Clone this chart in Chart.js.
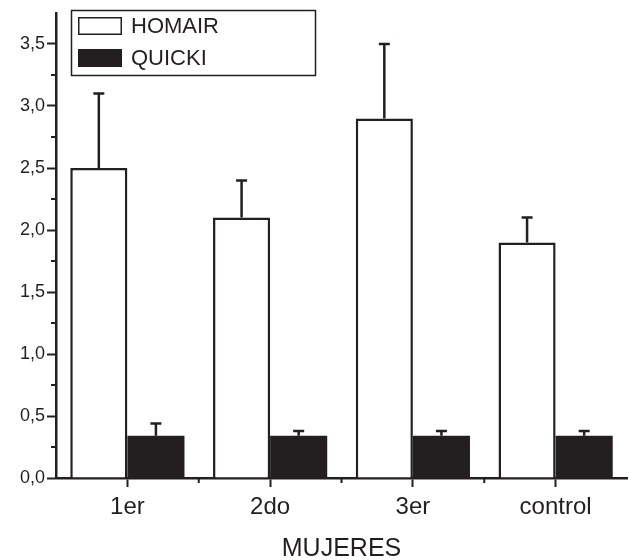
<!DOCTYPE html>
<html>
<head>
<meta charset="utf-8">
<title>HOMAIR / QUICKI</title>
<script src="https://cdn.jsdelivr.net/npm/chart.js@4.4.0/dist/chart.umd.min.js"></script>
<style>
    html, body { margin: 0; padding: 0; background: #fff; }
    canvas { display: block; }
</style>
</head>
<body>
<canvas id="chart" width="629" height="560"></canvas>
<script>
// values
const categories = ['1er', '2do', '3er', 'control'];
const homair = [2.5, 2.1, 2.9, 1.9];
const homairErr = [0.6, 0.3, 0.6, 0.2];
const quicki = [0.34, 0.34, 0.34, 0.34];
const quickiErr = [0.1, 0.04, 0.04, 0.04];
const yTicks = [0, 0.5, 1, 1.5, 2, 2.5, 3, 3.5];
const yMax = 3.75;

const ink = '#231f20';
const font = '"Liberation Sans", Arial, sans-serif';

// error bars (upper half only) drawn from the bar elements and y scale
const errorBars = {
    id: 'errorBars',
    afterDatasetsDraw: function (chart) {
        const ctx = chart.ctx;
        const y = chart.scales.y;
        ctx.save();
        ctx.strokeStyle = ink;
        ctx.lineWidth = 2.5;
        chart.data.datasets.forEach(function (ds, i) {
            chart.getDatasetMeta(i).data.forEach(function (bar, j) {
                const top = y.getPixelForValue(ds.data[j] + ds.errors[j]);
                ctx.beginPath();
                ctx.moveTo(bar.x, bar.y);
                ctx.lineTo(bar.x, top);
                ctx.moveTo(bar.x - 5.5, top);
                ctx.lineTo(bar.x + 5.5, top);
                ctx.stroke();
            });
        });
        ctx.restore();
    }
};

// minor ticks on both axes
const minorTicks = {
    id: 'minorTicks',
    afterDraw: function (chart) {
        const ctx = chart.ctx;
        const x = chart.scales.x;
        const y = chart.scales.y;
        const area = chart.chartArea;
        ctx.save();
        ctx.strokeStyle = ink;
        ctx.lineWidth = 2;
        ctx.beginPath();
        for (let k = 0; k < yTicks.length - 1; k++) {
            const py = y.getPixelForValue((yTicks[k] + yTicks[k + 1]) / 2);
            ctx.moveTo(area.left - 5, py);
            ctx.lineTo(area.left, py);
        }
        for (let k = 0; k < categories.length - 1; k++) {
            const px = (x.getPixelForValue(k) + x.getPixelForValue(k + 1)) / 2;
            ctx.moveTo(px, area.bottom);
            ctx.lineTo(px, area.bottom + 5);
        }
        ctx.stroke();
        ctx.restore();
    }
};

// boxed legend sitting inside the plot, top left
const boxLegend = {
    id: 'boxLegend',
    afterDraw: function (chart) {
        const ctx = chart.ctx;
        ctx.save();
        ctx.fillStyle = '#fff';
        ctx.fillRect(71, 10, 245, 66);
        ctx.strokeStyle = ink;
        ctx.lineWidth = 1.5;
        ctx.strokeRect(71.5, 10.5, 244, 65);
        ctx.font = '22px ' + font;
        ctx.textBaseline = 'middle';
        chart.data.datasets.forEach(function (ds, i) {
            const top = 17 + i * 32;
            ctx.fillStyle = ds.backgroundColor;
            ctx.fillRect(78, top, 44, 18);
            ctx.strokeStyle = ink;
            ctx.lineWidth = 1.5;
            ctx.strokeRect(78.75, top + 0.75, 42.5, 16.5);
            ctx.fillStyle = ink;
            ctx.fillText(ds.label, 131, top + 10);
        });
        ctx.restore();
    }
};

const ctx = document.getElementById('chart').getContext('2d');
const chart = new Chart(ctx, {
    type: 'bar',
    data: {
        labels: categories,
        datasets: [{
            label: 'HOMAIR',
            data: homair,
            errors: homairErr,
            backgroundColor: '#ffffff',
            borderColor: ink,
            borderWidth: { top: 2.5, left: 2.5, right: 2.5, bottom: 0 },
            borderSkipped: false
        }, {
            label: 'QUICKI',
            data: quicki,
            errors: quickiErr,
            backgroundColor: ink,
            borderWidth: 0
        }]
    },
    options: {
        responsive: false,
        animation: false,
        layout: { padding: { top: 13, right: 2, left: 0, bottom: 0 } },
        categoryPercentage: 0.8,
        barPercentage: 1.0,
        plugins: {
            legend: { display: false },
            tooltip: { enabled: false }
        },
        scales: {
            x: {
                offset: true,
                afterFit: function (scale) { scale.height = 82; },
                grid: {
                    display: true,
                    drawOnChartArea: false,
                    offset: false,
                    tickLength: 9,
                    tickWidth: 2,
                    tickColor: ink
                },
                border: { display: true, color: ink, width: 2.5 },
                ticks: {
                    color: ink,
                    padding: 6,
                    font: { family: font, size: 24 }
                },
                title: {
                    display: true,
                    text: 'MUJERES',
                    color: ink,
                    padding: { top: 0, bottom: -2 },
                    font: { family: font, size: 25, lineHeight: 1 }
                }
            },
            y: {
                min: 0,
                max: yMax,
                afterFit: function (scale) { scale.width = 56; },
                afterBuildTicks: function (scale) {
                    scale.ticks = yTicks.map(function (v) { return { value: v }; });
                },
                grid: {
                    display: true,
                    drawOnChartArea: false,
                    tickLength: 9,
                    tickWidth: 2,
                    tickColor: ink
                },
                border: { display: true, color: ink, width: 2.5 },
                ticks: {
                    color: ink,
                    padding: 2,
                    font: { family: font, size: 18 },
                    callback: function (v) { return v.toFixed(1).replace('.', ','); }
                }
            }
        }
    },
    plugins: [errorBars, minorTicks, boxLegend]
});
</script>
</body>
</html>
